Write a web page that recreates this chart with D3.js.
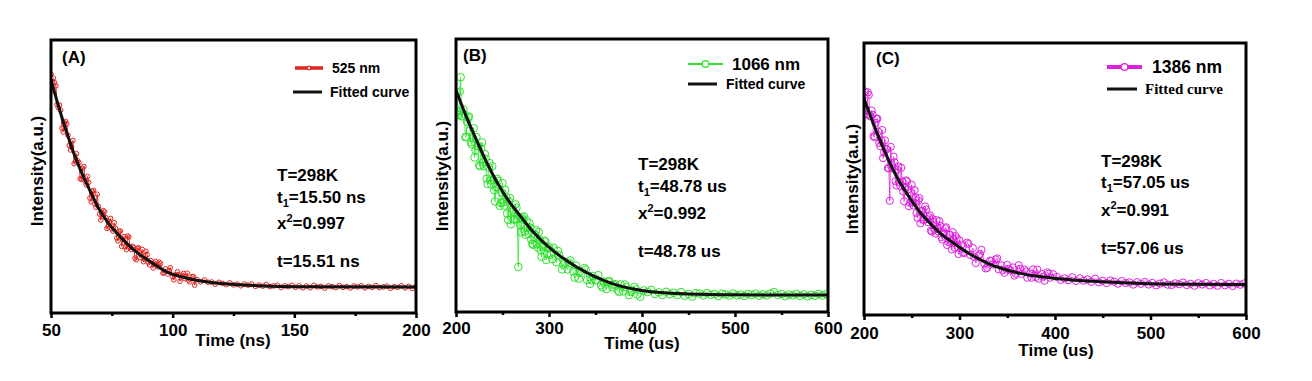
<!DOCTYPE html>
<html><head><meta charset="utf-8">
<script src="https://cdn.jsdelivr.net/npm/d3@7"></script>
<style>
body{margin:0;background:#fff}
svg{display:block}
text{font-family:"Liberation Sans",Arial,sans-serif;font-weight:bold;fill:#000}
</style>
</head><body>
<svg id="c" width="1312" height="381"></svg>
<script>
// ---------------- DATA ----------------
// Panel A (525 nm), time in ns, intensity in a.u. (0-100 scale of the frame)
const timeA = [50,51,52,53,54,55,56,57,58,59,60,61,62,63,64,65,66,67,68,69,70,71,72,73,74,75,76,77,78,79,80,81,82,83,84,85,86,87,88,89,90,91,92,93,94,95,96,97,98,99,100,101,102,103,104,105,106,107,108,109,110,111.5,113,114.5,116,117.5,119,120.5,122,123.5,125,126.5,128,129.5,131,132.5,134,135.5,137,138.5,140,141.5,143,144.5,146,147.5,149,150.5,152,153.5,155,156.5,158,159.5,161,162.5,164,165.5,167,168.5,170,171.5,173,174.5,176,177.5,179,180.5,182,183.5,185,186.5,188,189.5,191,192.5,194,195.5,197,198.5,200];
const intensityA = [87.5,86,83.2,75.2,74.3,66.3,70.2,65.1,59.7,63.2,55.4,55.7,49.2,53,48.3,50,42.1,44.6,40,43.5,36.2,36.4,37.1,31,33.4,30.8,33.1,27.5,29.9,24.4,28,23.2,27.8,23.3,24,19.5,23.9,21.5,18.8,22.6,18.5,19.2,16.5,18.9,16.9,18.1,14.6,16.2,14.3,16.6,13.3,14,15.1,11.6,13.8,12.6,14.6,11.4,13.4,10.2,12.25,11.4,12.1,11.3,11.35,10.55,11.25,10.85,10.4,11.05,10.3,10.55,9.95,10.6,10.2,10.6,9.75,10.25,9.85,10.45,9.65,9.9,10.2,9.35,9.95,9.65,10.15,9.4,9.95,9.2,9.9,9.25,10.15,9.55,9.75,9.1,9.95,9.65,9.3,10.05,9.4,9.7,9.15,9.9,9.55,10,9.2,9.75,9.4,10.05,9.3,9.55,9.85,9.05,9.65,9.4,9.95,9.2,9.75,9,9.75];
const timeAextra = [50.5,51.5,52.5,53.5,54.5,55.5,56.5,57.5,58.5,59.5,60.5,61.5,62.5,63.5,64.5,65.5,66.5,67.5,68.5,69.5,70.5,71.5,72.5,73.5,74.5,75.5,76.5,77.5,78.5,79.5,80.5,81.5,82.5,83.5,84.5,85.5,86.5,87.5,88.5,89.5,90.5,92.5,94.5,96.5,98.5,100.5,102.5,104.5,106.5,108.5];
const intensityAextra = [81.5,84.35,76.4,76.15,67.7,69.65,69.2,61.4,60.85,54.7,58.35,55.05,48.9,53.65,46.95,47.85,40.75,44.9,38.75,39,34.05,37.5,34.95,31.6,34.65,30,31.05,26.45,30,26.95,24.25,28.2,24.05,24.4,20.1,23.65,20.3,23.3,19.65,21.4,17.65,18.2,18.6,14.7,15.55,12.15,13.95,14.5,12.1,13.3];
const fitTimeA = [50,53,56.5,60,63.3,67,70,73.5,77,80,84,90,97.5,104,111,120,135,155,200];
const fitA = [85.5,76,66,57,50,43,37.7,33,29.3,26.5,23.1,19.3,15.1,13.2,11.8,10.8,10,9.6,9.5];

// Panel B (1066 nm), time in us
const timeB = [201,203,205,207,209,211,213,215,217,219,221,223,225,227,229,231,233,235,237,239,241,243,245,247,249,251,253,255,257,259,261,263,265,267,269,271,273,275,277,279,281,283,285,287,289,291,293,295,297,299,302,305,308,311,314,317,320,323,326,329,332,335,338,341,344,347,350,353,356,359,362,365,368,371,374,377,380,383,386,389,392,395,398,402,406,410,414,418,422,426,430,434,438,442,446,450,454,458,462,466,470,474,478,482,486,490,494,498,502,506,510,514,518,522,526,530,534,538,542,546,550,554,558,562,566,570,574,578,582,586,590,594,598];
const intensityB = [80.4,72.2,86,71.7,72.4,64.2,71.1,66.5,61.4,67.3,59.3,60.8,53.8,59.8,54.8,57.8,48.8,53,48.2,53.4,44.6,45.8,48,38.9,43.8,40.2,44.7,36.1,40.5,32.1,37.5,33.9,38.2,16.5,32,34.7,35,28.3,31.1,32.5,26.5,24.6,28.3,24.8,29.3,22.6,23.9,26.1,19.1,23.3,21.1,23.5,18.2,20.8,15.6,18.4,15.6,18.9,14.9,17,12.2,14.3,16.1,11.7,10.3,13.2,11.7,13.5,9.8,11.2,8.4,11.3,9.1,10.2,7.9,10.1,7.6,9.2,6.2,7.8,9.2,6.4,5.6,7.9,7.3,8.1,6.6,7.2,6.2,7.4,6.5,7.05,6.2,7.3,5.95,6.6,5.65,6.9,6.75,6.05,6.95,6.3,6.55,5.85,6.7,6.4,6,6.75,6.1,6.4,5.85,6.6,6.25,6.7,5.95,6.5,6.1,6.75,7.3,6.25,6.6,5.8,6.4,6.1,6.65,5.9,6.45,5.7,6.3,5.95,6.6,6.05,6.5];
const timeBextra = [202,204,206,208,210,212,214,216,218,220,222,224,226,228,230,232,234,236,238,240,242,244,246,248,250,252,254,256,258,260,262,264,266,268,270,272,274,276,278,280,282,284,286,288,290,292,294,296,298,300,303.5,309.5,315.5,321.5,327.5,333.5,339.5,345.5,351.5,357.5,363.5,369.5,375.5,381.5,387.5,393.5];
const intensityBextra = [73.4,80.7,71.7,74.2,64,69.6,71.6,62.2,63.6,56.6,64.1,60.8,53.4,62.1,53.4,56.1,46.9,54.6,46.7,48.4,40.5,48.8,45.2,39.9,47.2,38.9,42,33.7,41.8,36.7,33.9,39.4,34.1,34.8,29.2,33.9,29.5,33.4,28.6,30.9,25,27.5,30,23.6,26.5,20.2,24.4,25.8,21.2,23.8,19.4,22.4,17.3,18,12.6,14.9,15.5,11.6,11.7,9,11.2,9.9,7.3,10.1,7.3,8.3];
const fitTimeB = [200,210,220,233,245,257,269,280,292,305,320,340,360,380,400,420,450,500,600];
const fitB = [81.3,72.5,64.5,54.8,47,40.5,35.2,30.5,26.2,22.3,18.6,14.5,11.4,9.2,7.9,7.1,6.6,6.3,6.2];

// Panel C (1386 nm), time in us
const timeC = [201,203,205,207,209,211,213,215,217,219,221,223,225,227,229,231,233,235,237,239,241,243,245,247,249,251,253,255,257,259,261,263,265,267,269,271,273,275,277,279,281,283,285,287,289,291,293,295,297,299,302,305,308,311,314,317,320,323,326,329,332,335,338,341,344,347,350,353,356,359,362,365,368,371,374,377,380,383,386,389,392,395,398,402,406,410,414,418,422,426,430,434,438,442,446,450,454,458,462,466,470,474,478,482,486,490,494,498,502,506,510,514,518,522,526,530,534,538,542,546,550,554,558,562,566,570,574,578,582,586,590,594,598];
const intensityC = [82.2,73.8,80.9,73,73.6,65.4,72.1,67.4,62.1,68,59.8,61.1,54,42,55.1,58.2,49.2,53.4,48.7,54.1,45.4,46.7,49.1,40,45,41.4,45.9,37.5,42.1,33.7,38.2,34.95,38.8,34.15,36.6,30.65,34.15,29.95,31.7,34.5,28.65,29.9,31.85,25.75,29.45,27.2,30.45,24.7,28.15,22.4,25.9,22.75,26.6,22.05,24.6,19.1,21.75,23.95,18.9,17.35,20,18.6,20.4,16.8,18.2,15.5,18.4,16.4,17.5,15.2,18.3,15.1,16.7,13.7,15.3,16.8,14,13.3,15.1,12.6,15.7,13.7,15,14,12.9,13.5,12.8,13.9,12.5,13.5,12.6,13.1,12.2,13.35,12,12.6,11.75,12.7,12.25,11.5,12.5,11.75,12,11.15,12.1,11.45,12.15,11.2,11.8,10.9,11.55,12,11.15,11,11.65,11.3,11.95,11,11.5,10.75,11.7,11.2,11.75,10.85,11.45,10.75,11.75,10.9,11.5,10.65,11.55,11.1,11.6];
const timeCextra = [202,204,206,208,210,212,214,216,218,220,222,224,226,228,230,232,234,236,238,240,242,244,246,248,250,252,254,256,258,260,262,264,266,268,270,272,274,276,278,280,282,284,286,288,290,292,294,296,298,300,303.5,309.5,315.5,321.5,327.5,333.5,339.5,345.5,351.5,357.5,363.5,369.5,375.5,381.5,387.5,393.5];
const intensityCextra = [75.5,81.85,73.25,75.2,65.75,70.6,72.15,63.25,64.3,57.65,64.2,60.95,53.95,61.8,53.8,56.15,47.6,54.65,47.4,49.05,41.8,49.5,46.2,41.25,47.85,40.25,43.2,35.7,42.95,38.2,35,39.9,35.25,35.95,31.05,35.25,31.4,34.9,30.7,32.8,27.75,30.05,32.25,26.85,29.5,24.1,27.8,29.05,25.05,27.45,23,26.1,21.4,22.4,17.1,19.8,20.8,16.5,16.9,14.5,17,16,13.7,16.7,14.1,15.2];
const fitTimeC = [200,208,216.8,225,234,243,251.6,260,269,280,293.5,310,328.4,345,363.4,380,398.3,425,450.7,500,550,600];
const fitC = [79.7,72,64.3,57.5,51,45.7,41.1,37.2,33.8,30,26.5,22.6,19.2,17,15.3,14.3,13.5,12.7,12.2,11.5,11.3,11.2];

// axis ticks
const ticksA = [50,100,150,200];
const minorA = [75,125,175];
const ticksBC = [200,300,400,500,600];
const minorBC = [250,350,450,550];

// texts
const panelLabels = ["(A)","(B)","(C)"];
const seriesNames = ["525 nm","1066 nm","1386 nm"];
const fitName = "Fitted curve";
const xTitles = ["Time (ns)","Time (us)","Time (us)"];
const yTitle = "Intensity(a.u.)";
const annotA = [[["T=298K"]],[["t"],["1","sub"],["=15.50 ns"]],[["x"],["2","sup"],["=0.997"]],[["t=15.51 ns"]]];
const annotB = [[["T=298K"]],[["t"],["1","sub"],["=48.78 us"]],[["x"],["2","sup"],["=0.992"]],[["t=48.78 us"]]];
const annotC = [[["T=298K"]],[["t"],["1","sub"],["=57.05 us"]],[["x"],["2","sup"],["=0.991"]],[["t=57.06 us"]]];

// ---------------- DRAW ----------------
const svg = d3.select("#c");
const panels = [
  {box:{l:51,r:416,t:40,b:313}, dom:[50,200], ticks:ticksA, minor:minorA,
   time:timeA.concat(timeAextra), val:intensityA.concat(intensityAextra), ft:fitTimeA, fv:fitA,
   color:"#e3241f", r:2.3, lw:1, tickPad:6, xtY:340, xtX:233, yt:[37,171], pl:[62,57], ann:annotA, annX:277, annY:[175,197,223,261],
   leg:{x1:295,x2:323,y1:68,tx:332,fy:92,fx1:293,fx2:322,ftx:330,nameSize:14,fitSize:14,lineW:3.5,dot:1.8}},
  {box:{l:456,r:828,t:39,b:312}, dom:[200,600], ticks:ticksBC, minor:minorBC,
   time:timeB.concat(timeBextra), val:intensityB.concat(intensityBextra), ft:fitTimeB, fv:fitB,
   color:"#2fe02f", r:3.8, lw:0.8, tickPad:5, xtY:343, xtX:642, yt:[442,176], pl:[463,55], ann:annotB, annX:638, annY:[164,186,213,251],
   leg:{x1:688,x2:723,y1:64,tx:732,fy:84,fx1:688,fx2:717,ftx:726,nameSize:17,fitSize:14,lineW:2,dot:3.3}},
  {box:{l:864,r:1246,t:43,b:315}, dom:[200,600], ticks:ticksBC, minor:minorBC,
   time:timeC.concat(timeCextra), val:intensityC.concat(intensityCextra), ft:fitTimeC, fv:fitC,
   color:"#e020e0", r:3.6, lw:0.8, tickPad:7, xtY:350, xtX:1056, yt:[852,179], pl:[876,58], ann:annotC, annX:1101, annY:[161,182,210,248],
   leg:{x1:1107,x2:1142,y1:67,tx:1152,fy:89,fx1:1107,fx2:1137,ftx:1145,nameSize:17.5,fitSize:15,lineW:4,dot:3.3,serif:true}}
];

panels.forEach((p,i)=>{
  const x = d3.scaleLinear().domain(p.dom).range([p.box.l,p.box.r]);
  const y = d3.scaleLinear().domain([0,100]).range([p.box.b,p.box.t]);
  const g = svg.append("g");
  const cid = "clip"+i;
  svg.append("clipPath").attr("id",cid).append("rect")
    .attr("x",p.box.l).attr("y",p.box.t).attr("width",p.box.r-p.box.l).attr("height",p.box.b-p.box.t);
  const pg = g.append("g").attr("clip-path",`url(#${cid})`);
  const pts = p.time.map((t,k)=>[t,p.val[k]]).sort((a,b)=>a[0]-b[0]);
  pg.append("path").datum(pts)
    .attr("d", d3.line().x(d=>x(d[0])).y(d=>y(d[1])))
    .attr("fill","none").attr("stroke",p.color).attr("stroke-width",p.lw);
  pg.selectAll("circle").data(pts).join("circle")
    .attr("cx",d=>x(d[0])).attr("cy",d=>y(d[1])).attr("r",p.r)
    .attr("fill","none").attr("stroke",p.color).attr("stroke-width",1);
  const fpts = p.ft.map((t,k)=>[t,p.fv[k]]);
  pg.append("path").datum(fpts)
    .attr("d", d3.line().x(d=>x(d[0])).y(d=>y(d[1])).curve(d3.curveMonotoneX))
    .attr("fill","none").attr("stroke","#111").attr("stroke-width",3);

  // axes
  const ax = g.append("g").attr("transform",`translate(0,${p.box.b})`)
    .call(d3.axisBottom(x).tickValues(p.ticks).tickSize(5).tickPadding(p.tickPad).tickFormat(d3.format("d")));
  ax.select(".domain").remove();
  ax.selectAll("line").attr("stroke","#000").attr("stroke-width",2.5);
  ax.selectAll("text").style("font-family",'"Liberation Sans",Arial,sans-serif').style("font-weight","bold").style("font-size","17px").attr("fill","#000");
  const mx = g.append("g").attr("transform",`translate(0,${p.box.b})`)
    .call(d3.axisBottom(x).tickValues(p.minor).tickSize(3).tickFormat(""));
  mx.select(".domain").remove();
  mx.selectAll("line").attr("stroke","#000").attr("stroke-width",2.5);

  // frame
  g.append("rect").attr("x",p.box.l).attr("y",p.box.t).attr("width",p.box.r-p.box.l).attr("height",p.box.b-p.box.t)
    .attr("fill","none").attr("stroke","#000").attr("stroke-width",3);

  // titles
  g.append("text").attr("x",p.xtX).attr("y",p.xtY).attr("dy","0.35em").attr("text-anchor","middle").style("font-size","17px").text(xTitles[i]);
  g.append("text").attr("transform",`translate(${p.yt[0]},${p.yt[1]}) rotate(-90)`).attr("dy","0.35em").attr("text-anchor","middle").style("font-size","17px").text(yTitle);
  g.append("text").attr("x",p.pl[0]).attr("y",p.pl[1]).attr("dy","0.35em").style("font-size","17px").text(panelLabels[i]);

  // annotations (with sub/superscripts)
  p.ann.forEach((line,k)=>{
    const tx = g.append("text").attr("x",p.annX).attr("y",p.annY[k]+6).style("font-size","17px");
    let shift = 0;
    line.forEach(seg=>{
      const ts = tx.append("tspan").text(seg[0]);
      let target = 0;
      if(seg[1]==="sub"){ target = 4; ts.style("font-size","11px"); }
      if(seg[1]==="sup"){ target = -7; ts.style("font-size","11px"); }
      ts.attr("dy", target - shift);
      shift = target;
    });
  });

  // legend
  const L = p.leg;
  g.append("line").attr("x1",L.x1).attr("x2",L.x2).attr("y1",L.y1).attr("y2",L.y1).attr("stroke",p.color).attr("stroke-width",L.lineW);
  g.append("circle").attr("cx",(L.x1+L.x2)/2).attr("cy",L.y1).attr("r",L.dot).attr("fill","#fff").attr("stroke",p.color).attr("stroke-width",1.2);
  g.append("text").attr("x",L.tx).attr("y",L.y1).attr("dy","0.35em").style("font-size",L.nameSize+"px").text(seriesNames[i]);
  g.append("line").attr("x1",L.fx1).attr("x2",L.fx2).attr("y1",L.fy).attr("y2",L.fy).attr("stroke","#111").attr("stroke-width",3);
  g.append("text").attr("x",L.ftx).attr("y",L.fy).attr("dy","0.35em").style("font-size",L.fitSize+"px")
    .style("font-family",L.serif?'"Liberation Serif","Times New Roman",serif':null).text(fitName);
});
</script>
</body></html>
